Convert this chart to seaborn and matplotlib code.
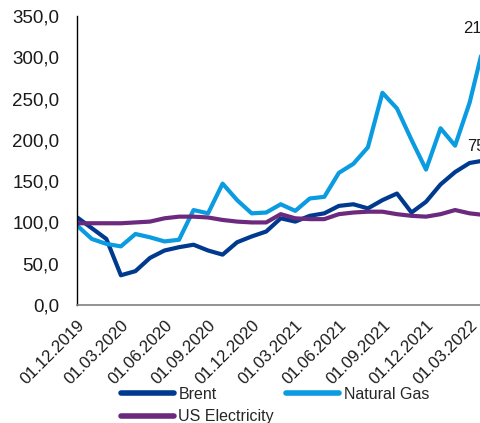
import matplotlib
matplotlib.use("Agg")
import matplotlib.pyplot as plt
import matplotlib.ticker as mticker
import numpy as np
import pandas as pd
import seaborn as sns

# Monthly index values (Dec 2019 = ~100)
months = pd.date_range("2019-12-01", periods=29, freq="MS")
brent = [106, 93, 80, 36, 41, 57, 66, 70, 73, 66, 61, 76, 83, 89, 105,
         101, 108, 111, 120, 122, 117, 127, 135, 112, 125, 146, 161, 172, 175]
natural_gas = [96, 80, 74, 71, 86, 82, 77, 79, 115, 111, 147, 127, 111, 112, 122,
               114, 129, 131, 160, 171, 191, 257, 238, 200, 164, 214, 193, 245, 317]
us_electricity = [99, 99, 99, 99, 100, 101, 105, 107, 107, 106, 103, 101, 100, 100, 110,
                  105, 104, 104, 110, 112, 113, 113, 110, 108, 107, 110, 115, 111, 109]
series_names = ["Brent", "Natural Gas", "US Electricity"]
colors = ["#003a8f", "#0a9be0", "#6b2a7e"]
y_ticks = [0, 50, 100, 150, 200, 250, 300, 350]

idx = np.arange(len(months))
df = pd.concat([
    pd.DataFrame({"i": idx, "value": vals, "series": name})
    for name, vals in zip(series_names, [brent, natural_gas, us_electricity])
])

sns.set_theme(style="white")
plt.rcParams["font.family"] = ["Liberation Sans", "DejaVu Sans"]

fig = plt.figure(figsize=(4.8, 4.23), dpi=100)
px = 14.53 / 480  # width of one month in figure fraction
ax = fig.add_axes([77.3 / 480, 118 / 423, 30 * px, 289 / 423])

sns.lineplot(data=df, x="i", y="value", hue="series", hue_order=series_names,
             palette=colors, linewidth=3.0, ax=ax, legend=True)

ax.set_xlim(0, 30)
ax.set_ylim(0, 350)
ax.set_yticks(y_ticks)
ax.yaxis.set_major_formatter(mticker.FuncFormatter(lambda v, p: f"{v:.1f}".replace(".", ",")))

tick_idx = idx[::3]
ax.set_xticks(tick_idx)
ax.set_xticklabels([months[i].strftime("%d.%m.%Y") for i in tick_idx],
                   rotation=45, ha="right", rotation_mode="anchor")

ax.tick_params(axis="both", which="both", direction="out", length=5, width=1,
               color="#808080", labelcolor="#1a1a1a")
ax.tick_params(axis="x", labelsize=12, pad=4)
ax.tick_params(axis="y", labelsize=13.5, pad=8)
ax.set_xlabel("")
ax.set_ylabel("")
for side in ["top", "right"]:
    ax.spines[side].set_visible(False)
ax.spines["left"].set_color("black")
ax.spines["left"].set_linewidth(1)
ax.spines["bottom"].set_color("#808080")
ax.spines["bottom"].set_linewidth(1.2)

# Change since the start of the period at the latest month
last = len(months) - 1
for vals in [natural_gas, brent]:
    ax.annotate(f"{vals[last] - 100:.0f}%", xy=(last, vals[last]),
                xytext=(0, 5), textcoords="offset points",
                ha="center", va="bottom", fontsize=12, color="#1a1a1a")

# Two-column legend: Brent / Natural Gas on the first row, US Electricity below
handles, labels = ax.get_legend_handles_labels()
order = [0, 2, 1]
ax.legend([handles[k] for k in order], [labels[k] for k in order],
          loc="upper left", bbox_to_anchor=(121 / 480, 1 - 387 / 423),
          bbox_transform=fig.transFigure, ncol=2, frameon=False, fontsize=11.5,
          handlelength=3.3, handletextpad=0.3, columnspacing=0.75, labelspacing=0.45,
          borderaxespad=0, borderpad=0)
for line in ax.get_legend().get_lines():
    line.set_linewidth(4)

fig.savefig("out.png", dpi=100)
